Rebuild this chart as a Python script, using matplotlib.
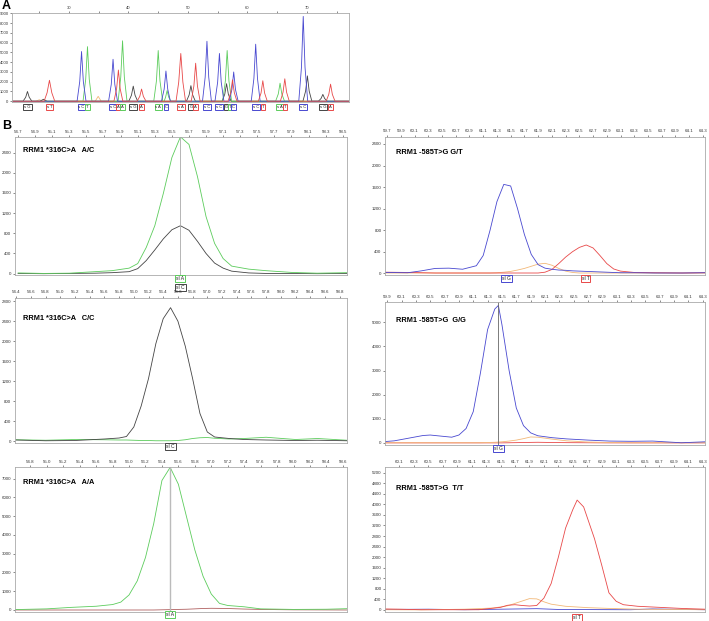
import numpy as np
import matplotlib.pyplot as plt
from matplotlib.transforms import blended_transform_factory

plt.rcParams['font.family'] = ['Liberation Sans', 'DejaVu Sans']

W, H = 709, 621
GREEN = '#5ccc5c'
BLACK = '#444444'
BLUE = '#4848d0'
RED = '#e84848'
ORANGE = '#f2b878'

# ---- panel A : sequence trace, one point list per dye ----
a_black_x = [20.5, 22.25, 22.7, 23.0, 23.3, 23.75, 25.1, 25.7, 26.3, 40.05, 40.5, 40.8, 41.1, 41.55,
             49.75, 50.2, 50.5, 50.8, 51.25, 55.75, 56.2, 56.5, 56.8, 57.25,
             69.35, 69.8, 70.1, 70.4, 70.85, 71.95, 72.4, 72.7, 73.0, 73.45, 77.1]
a_black_y = [0, 0, 400, 1000, 400, 0, 0, 200, 0, 0, 620, 1550, 620, 0,
             0, 640, 1600, 640, 0, 0, 720, 1800, 720, 0,
             0, 1040, 2600, 1040, 0, 0, 280, 700, 280, 0, 0]
a_blue_x = [20.5, 31.35, 31.8, 32.1, 32.4, 32.85, 36.65, 37.1, 37.4, 37.7, 38.15,
            45.55, 46.0, 46.3, 46.6, 47.05, 52.45, 52.9, 53.2, 53.5, 53.95,
            54.55, 55.0, 55.3, 55.6, 56.05, 56.95, 57.4, 57.7, 58.0, 58.45,
            60.65, 61.1, 61.4, 61.7, 62.15, 68.65, 69.1, 69.4, 69.7, 70.15, 77.1]
a_blue_y = [0, 0, 2040, 5100, 2040, 0, 0, 1720, 4300, 1720, 0,
            0, 1240, 3100, 1240, 0, 0, 2460, 6150, 2460, 0,
            0, 1960, 4900, 1960, 0, 0, 1200, 3000, 1200, 0,
            0, 2340, 5850, 2340, 0, 0, 3480, 8700, 3480, 0, 0]
a_green_x = [20.5, 32.35, 32.8, 33.1, 33.4, 33.85, 38.25, 38.7, 39.0, 39.3, 39.75,
             44.25, 44.7, 45.0, 45.3, 45.75, 46.0, 46.25, 46.5, 46.75, 47.1,
             55.85, 56.3, 56.6, 56.9, 57.35, 64.75, 65.2, 65.5, 65.8, 66.25, 77.1]
a_green_y = [0, 0, 2240, 5600, 2240, 0, 0, 2480, 6200, 2480, 0,
             0, 2080, 5200, 2080, 0, 0, 440, 1100, 440, 0,
             0, 2080, 5200, 2080, 0, 0, 740, 1850, 740, 0, 0]
a_red_x = [20.5, 25.8, 26.3, 26.7, 27.1, 27.6, 37.55, 38.0, 38.3, 38.6, 39.05,
           41.45, 41.9, 42.2, 42.5, 42.95, 48.0, 48.45, 48.8, 49.15, 49.6,
           50.55, 51.0, 51.3, 51.6, 52.05, 56.75, 57.2, 57.5, 57.8, 58.25,
           61.85, 62.3, 62.6, 62.9, 63.35, 65.55, 66.0, 66.3, 66.6, 67.05,
           73.25, 73.7, 74.0, 74.3, 74.75, 77.1]
a_red_y = [0, 0, 860, 2150, 860, 0, 0, 1280, 3200, 1280, 0,
           0, 500, 1250, 500, 0, 0, 1960, 4900, 1960, 0,
           0, 1560, 3900, 1560, 0, 0, 880, 2200, 880, 0,
           0, 840, 2100, 840, 0, 0, 920, 2300, 920, 0,
           0, 700, 1750, 700, 0, 0]
a_orange_x = [20.5, 24.4, 25.0, 25.6, 34.4, 34.9, 35.4, 77.1]
a_orange_y = [0, 0, 150, 0, 0, 500, 0, 0]

a_lab_x = [23.0, 26.7, 32.1, 33.1, 37.4, 38.3, 39.0, 40.8, 42.2, 45.0, 46.3, 48.8, 50.5, 51.3,
           53.2, 55.3, 56.5, 57.1, 57.7, 61.4, 62.6, 65.5, 66.3, 69.4, 72.7, 74.0]
a_lab_c = [BLACK, RED, BLUE, GREEN, BLUE, RED, GREEN, BLACK, RED, GREEN, BLUE, RED, BLACK, RED,
           BLUE, BLUE, BLACK, GREEN, BLUE, BLUE, RED, GREEN, RED, BLUE, BLACK, RED]
a_lab_t = ['s G', 's T', 's C', 'T', 's C', 'A', 'A', 's G', 'A', 's A', 'C', 's A', 'G', 'A',
           's C', 's C', 'G', 'T', 'C', 's C', 'T', 's A', 'T', 's C', 's G', 'A']

# ---- panel B : genotype peaks ----
b1_x = [54.7, 55.0, 55.3, 55.6, 55.8, 56.0, 56.1, 56.2, 56.3, 56.4, 56.5, 56.6, 56.7, 56.8,
        56.9, 57.0, 57.1, 57.2, 57.4, 57.6, 57.9, 58.2, 58.55]
b1_green = [15, 5, 10, 40, 60, 110, 200, 520, 950, 1590, 2300, 2710, 2560, 1920,
            1130, 600, 300, 150, 90, 60, 25, 10, 20]
b1_black = [5, 0, 5, 10, 20, 40, 100, 260, 470, 690, 870, 950, 860, 640,
            400, 210, 110, 50, 15, 5, 5, 0, 5]

b2_x = [54.4, 54.8, 55.2, 55.6, 55.8, 55.9, 56.0, 56.1, 56.2, 56.3, 56.4, 56.5, 56.6, 56.7,
        56.8, 56.9, 57.0, 57.1, 57.3, 57.5, 57.8, 58.2, 58.5, 58.9]
b2_black = [20, 5, 10, 40, 60, 90, 280, 700, 1250, 1950, 2450, 2670, 2400, 1900,
            1250, 550, 180, 80, 50, 30, 20, 10, 15, 5]
b2_green = [25, 15, 30, 25, 20, 20, 15, 10, 10, 5, 5, 5, 10, 25,
            50, 65, 70, 55, 40, 50, 75, 30, 50, 15]

b3_x = [54.6, 55.0, 55.3, 55.6, 55.8, 55.9, 56.0, 56.1, 56.2, 56.3, 56.4, 56.5, 56.6, 56.7,
        56.8, 56.9, 57.0, 57.1, 57.2, 57.4, 57.6, 58.0, 58.4, 58.65]
b3_green = [20, 60, 140, 200, 290, 420, 800, 1550, 2800, 4600, 6900, 7600, 6700, 4950,
            3200, 1800, 850, 350, 240, 170, 60, 30, 40, 70]
b3_black = [0, 0, 0, 0, 0, 0, 0, 0, 0, 0, 10, 20, 30, 40,
            60, 80, 90, 85, 80, 50, 30, 10, 5, 0]

b4_x = [59.67, 60.0, 60.2, 60.4, 60.6, 60.8, 61.0, 61.1, 61.2, 61.3, 61.4, 61.5, 61.6, 61.7,
        61.8, 61.9, 62.0, 62.1, 62.2, 62.3, 62.4, 62.5, 62.6, 62.7, 62.8, 62.9, 63.0, 63.1,
        63.3, 63.6, 64.0, 64.33]
b4_blue = [15, 10, 45, 90, 95, 75, 140, 330, 800, 1330, 1650, 1620, 1200, 720,
           350, 160, 95, 75, 60, 55, 45, 40, 35, 30, 25, 20, 15, 10, 10, 5, 5, 10]
b4_red = [20, 15, 10, 5, 5, 5, 5, 5, 5, 5, 5, 5, 5, 5,
          5, 5, 20, 70, 180, 300, 400, 480, 525, 470, 330, 180, 80, 40, 15, 10, 5, 10]
b4_orange = [5, 5, 5, 5, 5, 5, 5, 5, 5, 10, 20, 35, 60, 90,
             130, 170, 185, 150, 90, 40, 15, 5, 5, 5, 5, 5, 5, 5, 5, 5, 5, 5]

b5_x = [59.87, 60.0, 60.2, 60.4, 60.5, 60.6, 60.8, 60.9, 61.0, 61.1, 61.2, 61.3, 61.4, 61.45,
        61.5, 61.6, 61.7, 61.8, 61.9, 62.0, 62.2, 62.4, 62.7, 63.0, 63.3, 63.6, 64.0, 64.33]
b5_blue = [60, 90, 200, 310, 330, 300, 240, 330, 600, 1300, 2900, 4700, 5550, 5700,
           4900, 3000, 1450, 720, 420, 300, 220, 170, 120, 80, 70, 80, 10, 50]
b5_orange = [10, 10, 10, 10, 10, 10, 10, 10, 10, 10, 10, 20, 30, 40,
             50, 80, 120, 180, 250, 240, 160, 90, 40, 20, 10, 10, 10, 10]
b5_red = [5, 5, 5, 5, 5, 5, 5, 5, 5, 5, 5, 5, 5, 5,
          5, 10, 15, 20, 25, 30, 20, 15, 10, 5, 5, 5, 5, 5]

b6_red_x = [59.9, 60.1, 60.4, 60.8, 61.2, 61.5, 61.6, 61.7, 61.8, 61.9, 62.0, 62.1, 62.2, 62.3,
            62.4, 62.5, 62.56, 62.65, 62.7, 62.8, 62.9, 63.0, 63.1, 63.2, 63.4, 63.7, 64.0, 64.33]
b6_red = [40, 30, 10, 10, 10, 100, 180, 200, 170, 150, 170, 450, 1000, 2000,
          3100, 3800, 4160, 3900, 3500, 2700, 1700, 650, 330, 200, 140, 100, 60, 30]
b6_orange_x = [59.9, 60.4, 61.0, 61.4, 61.6, 61.8, 61.9, 62.0, 62.1, 62.2, 62.4, 62.7, 63.0, 63.4, 64.33]
b6_orange = [10, 5, 30, 75, 160, 340, 430, 420, 310, 220, 140, 90, 60, 30, 10]
b6_blue_x = [59.9, 60.5, 61.0, 61.5, 62.0, 62.3, 63.3, 63.6, 64.33]
b6_blue = [20, 30, 10, 30, 50, 20, 10, 40, 10]

titles = ['RRM1 *316C>A   A/C', 'RRM1 -585T>G G/T',
          'RRM1 *316C>A   C/C', 'RRM1 -585T>G  G/G',
          'RRM1 *316C>A   A/A', 'RRM1 -585T>G  T/T']

fig = plt.figure(figsize=(W / 100, H / 100), dpi=100)


def box_axes(l, t, r, b):
    return fig.add_axes([l / W, 1 - b / H, (r - l) / W, (b - t) / H])


def style(ax, xlim, ylim, xt0, xt1, ymax, ystep, fmt='%.1f'):
    ax.set_xlim(*xlim)
    ax.set_ylim(*ylim)
    ax.xaxis.tick_top()
    xt = np.round(np.arange(xt0, xt1 + 0.01, 0.2), 1)
    ax.set_xticks(xt)
    ax.set_xticklabels([fmt % v for v in xt])
    yt = np.arange(0, ymax + 1, ystep)
    ax.set_yticks(yt)
    ax.set_yticklabels([str(v) for v in yt])
    ax.tick_params(labelsize=3.2, length=1.5, width=0.4, pad=1, colors='#333333')
    for s in ax.spines.values():
        s.set_color('#aaaaaa')
        s.set_linewidth(0.6)


def tag(ax, x, txt, col, dy, fs=3.6):
    tr = blended_transform_factory(ax.transData, ax.transAxes)
    ax.annotate(txt, xy=(x, 0), xycoords=tr, xytext=(0, dy), textcoords='offset points',
                ha='center', va='top', fontsize=fs, color='#222222', annotation_clip=False,
                bbox=dict(boxstyle='square,pad=0.2', fc='white', ec=col, lw=0.7))


# panel A
axA = box_axes(12, 13, 349, 102)
for xs, ys, c in [(a_orange_x, a_orange_y, ORANGE), (a_black_x, a_black_y, BLACK),
                  (a_green_x, a_green_y, GREEN), (a_blue_x, a_blue_y, BLUE), (a_red_x, a_red_y, RED)]:
    axA.plot(xs, ys, color=c, lw=0.6)
axA.set_xlim(20.4, 77.1)
axA.set_ylim(-80, 9050)
axA.xaxis.tick_top()
axA.set_xticks([30, 40, 50, 60, 70])
axA.set_xticks([25, 35, 45, 55, 65, 75], minor=True)
axA.set_yticks(np.arange(0, 9001, 1000))
axA.tick_params(which='both', labelsize=3, length=1.5, width=0.4, pad=1, colors='#333333')
for s in axA.spines.values():
    s.set_color('#aaaaaa')
    s.set_linewidth(0.6)
for x, c, t in zip(a_lab_x, a_lab_c, a_lab_t):
    tag(axA, x, t, c, -2, fs=3)

# panel B
ax1 = box_axes(14.7, 137, 347, 275)
ax1.plot(b1_x, b1_black, color=BLACK, lw=0.6)
ax1.plot(b1_x, b1_green, color=GREEN, lw=0.6)
ax1.axvline(56.6, color='#aaaaaa', lw=0.6)
style(ax1, (54.66, 58.55), (-26, 2707), 54.7, 58.5, 2400, 400)
tag(ax1, 56.6, 'sl A', GREEN, -1)
tag(ax1, 56.6, 'sl C', BLACK, -7.5)

ax2 = box_axes(385, 136.7, 705, 275)
ax2.plot(b4_x, b4_orange, color=ORANGE, lw=0.6)
ax2.plot(b4_x, b4_red, color=RED, lw=0.6)
ax2.plot(b4_x, b4_blue, color=BLUE, lw=0.6)
style(ax2, (59.67, 64.33), (-32, 2535), 59.7, 64.3, 2400, 400)
tag(ax2, 61.44, 'sl G', BLUE, -1)
tag(ax2, 62.59, 'sl T', RED, -1)

ax3 = box_axes(14.7, 297.7, 347, 443)
ax3.plot(b2_x, b2_green, color=GREEN, lw=0.6)
ax3.plot(b2_x, b2_black, color=BLACK, lw=0.6)
style(ax3, (54.38, 58.9), (-40, 2870), 54.4, 58.8, 2800, 400)
tag(ax3, 56.5, 'sl C', BLACK, -1)

ax4 = box_axes(385, 302.3, 705, 445)
ax4.plot(b5_x, b5_red, color=RED, lw=0.6)
ax4.plot(b5_x, b5_orange, color=ORANGE, lw=0.6)
ax4.plot(b5_x, b5_blue, color=BLUE, lw=0.6)
ax4.axvline(61.45, color='#666666', lw=0.6)
style(ax4, (59.87, 64.33), (-83, 5830), 59.9, 64.3, 5000, 1000)
tag(ax4, 61.45, 'sl G', BLUE, -1)

ax5 = box_axes(14.7, 467, 347, 612)
ax5.plot(b3_x, b3_black, color='#b06060', lw=0.6)
ax5.plot(b3_x, b3_green, color=GREEN, lw=0.6)
ax5.axvline(56.5, color='#bbbbbb', lw=1)
style(ax5, (54.61, 58.65), (-107, 7620), 54.8, 58.6, 7000, 1000)
tag(ax5, 56.5, 'sl A', GREEN, 0)

ax6 = box_axes(385, 467.3, 705, 612)
ax6.plot(b6_blue_x, b6_blue, color=BLUE, lw=0.6)
ax6.plot(b6_orange_x, b6_orange, color=ORANGE, lw=0.6)
ax6.plot(b6_red_x, b6_red, color=RED, lw=0.6)
style(ax6, (59.9, 64.33), (-76, 5400), 60.1, 64.3, 5200, 400)
tag(ax6, 62.56, 'sl T', RED, -2)

title_pos = [(0.024, 0.905), (0.034, 0.885), (0.024, 0.855), (0.034, 0.87), (0.024, 0.895), (0.034, 0.855)]
for ax, t, (tx, ty) in zip([ax1, ax2, ax3, ax4, ax5, ax6], titles, title_pos):
    ax.text(tx, ty, t, transform=ax.transAxes, fontsize=5.3, fontweight='bold', va='center', ha='left')

fig.text(2 / W, 1 - 6 / H, 'A', fontsize=9, fontweight='bold', va='center', ha='left')
fig.text(2 / W, 1 - 126 / H, 'B', fontsize=9, fontweight='bold', va='center', ha='left')

fig.savefig('out.png', dpi=100)
